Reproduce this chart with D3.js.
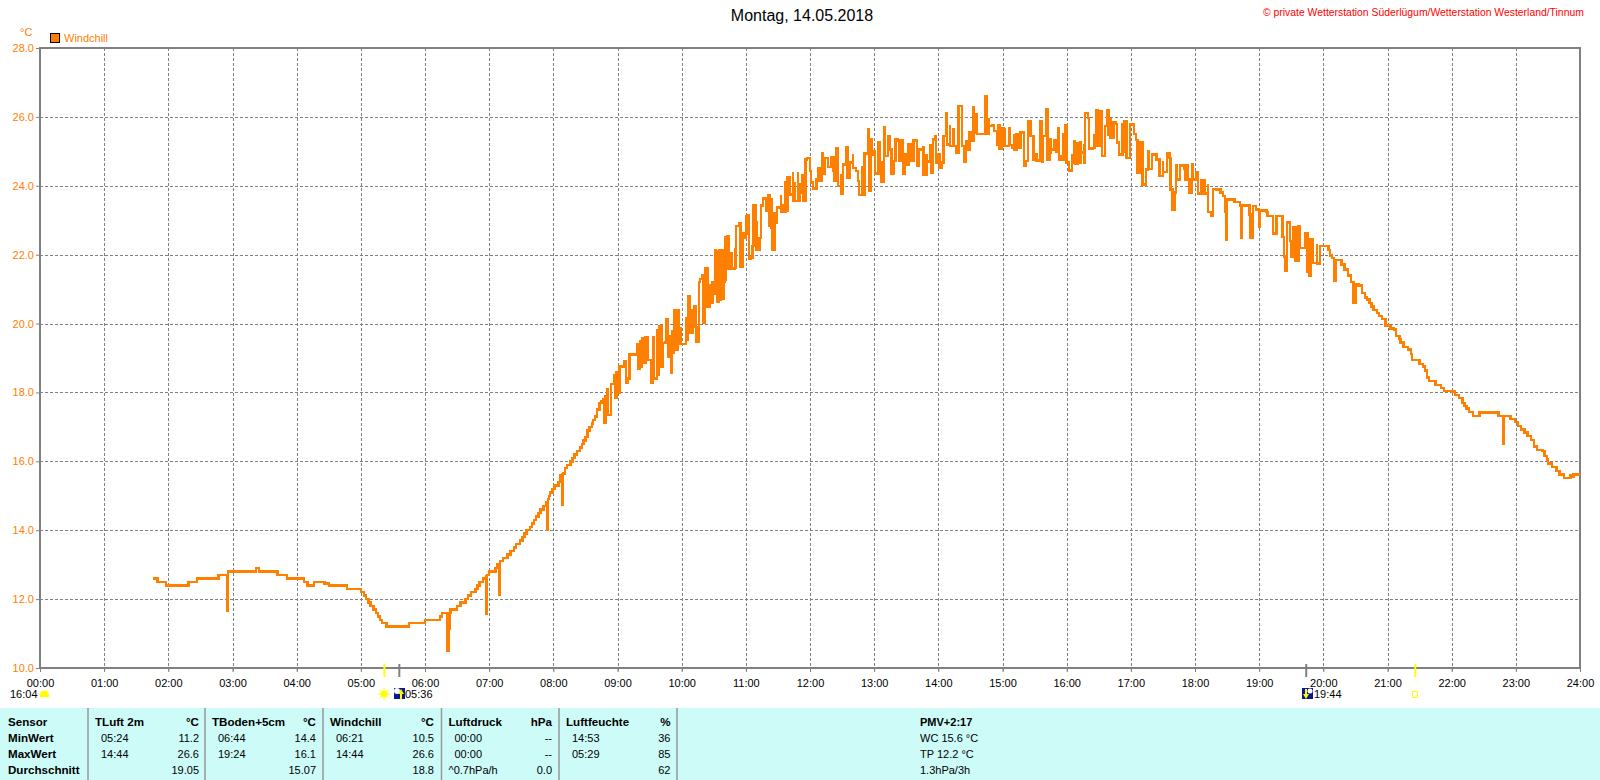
<!DOCTYPE html>
<html>
<head>
<meta charset="utf-8">
<title>Windchill 14.05.2018</title>
<script src="https://cdn.jsdelivr.net/npm/d3@7"></script>
<style>
  html, body { margin: 0; padding: 0; background: #fff; }
  svg { display: block; }
  text { font-family: "Liberation Sans", Arial, sans-serif; font-size: 11px; fill: #000; }
</style>
</head>
<body>
<svg id="chart" width="1600" height="780"></svg>
<script>
const hourTicks = d3.range(0, 1441, 60);
const hourLabels = ["00:00","01:00","02:00","03:00","04:00","05:00","06:00","07:00","08:00","09:00","10:00","11:00","12:00",
  "13:00","14:00","15:00","16:00","17:00","18:00","19:00","20:00","21:00","22:00","23:00","24:00"];
const tempTicks = [10, 12, 14, 16, 18, 20, 22, 24, 26, 28];

// [minute of day, windchill degC]
const windchill = [
  [106,12.6],[110,12.5],[118,12.4],[139,12.5],[147,12.6],[167,12.7],[175,12.7],
  [175,11.67],[176,11.67],[176,12.8],[202,12.9],[205,12.8],[222,12.7],[231,12.6],[247,12.5],
  [250,12.4],[256,12.5],[266,12.45],[270,12.4],[287,12.3],[300,12.2],[303,12.1],[305,12.0],[307,11.9],[309,11.8],[312,11.7],[314,11.6],[316,11.5],
  [318,11.4],[320,11.3],[324,11.2],[345,11.3],[360,11.4],[374,11.5],[376,11.6],[381,11.6],[381,10.5],[382,10.5],[382,11.6],[383,11.1],[383,11.6],[384,11.7],[390,11.8],[393,11.9],
  [398,12.0],[400,12.1],[403,12.2],[407,12.3],[409,12.4],[411,12.5],[414,12.6],[417,12.7],[417,11.57],[418,11.57],[418,12.7],[420,12.8],[426,12.9],
  [428,13.0],[429,13.0],[429,12.13],[430,12.13],[430,13.1],[433,13.2],[437,13.3],[440,13.4],[443,13.5],[445,13.6],[449,13.7],[451,13.8],[453,13.9],[455,14.0],
  [458,14.1],[460,14.2],[462,14.3],[464,14.4],[466,14.5],[468,14.6],[471,14.7],[473,14.8],[474,14.8],[474,14.0],[475,14.0],[475,14.9],[476,15.0],[477,15.1],[479,15.2],[481,15.3],
  [485,15.4],[486,15.6],[488,15.65],[488,14.73],[489,14.73],[489,15.65],[491,15.8],[493,15.9],[496,16.0],[498,16.1],[500,16.2],[502,16.3],[505,16.4],[507,16.5],[508,16.6],[510,16.7],
  [512,16.9],[514,17.0],[516,17.1],[517,17.2],[519,17.3],[521,17.5],[523,17.7],[525,17.75],[527,17.8],[528,17.12],[529,17.9],
  [530,18.1],[531,17.35],[534,18.25],[537,18.5],[538,17.86],[539,18.6],[541,18.0],[542,18.75],[546,18.9],[547,18.92],[548,18.28],[550,18.4],
  [551,19.1],[556,19.1],[558,19.4],[559,18.7],[561,19.5],[562,18.75],[563,19.57],[564,18.85],[566,19.6],[568,19.6],[568,18.94],[571,18.94],
  [572,18.28],[573,19.6],[574,18.4],[577,19.8],[578,18.5],[579,19.93],[581,19.93],[581,18.75],[582,19.43],[585,19.47],[586,20.12],[587,19.04],
  [589,19.64],[590,18.56],[591,19.77],[592,19.16],[593,20.4],[595,19.24],[596,20.4],[597,19.85],[599,19.4],[604,20.15],[605,19.52],[606,20.8],
  [608,19.72],[610,20.4],[612,20.5],[613,19.9],[614,19.47],[616,21.2],[617,21.3],[619,21.41],[620,20.03],[622,21.62],[624,20.5],[626,21.1],
  [627,20.6],[629,21.2],[631,20.83],[631,22.14],[632,22.1],[633,20.64],[635,22.14],[636,20.7],[637,22.14],[638,20.73],[639,21.2],[640,21.28],
  [641,22.52],[643,22.54],[644,21.6],[646,22.05],[647,21.6],[649,21.58],[650,22.2],[650,21.62],[651,22.83],[654,22.9],[655,21.65],[657,22.62],
  [659,22.49],[660,23.14],[660,22.62],[662,23.14],[663,22.62],[663,21.88],[665,21.92],[666,22.25],[667,23.43],[669,23.43],[669,22.93],[670,22.13],
  [673,22.13],[673,22.49],[674,23.43],[676,23.63],[678,23.63],[679,23.27],[681,23.72],[682,22.83],[684,23.65],[684,22.78],[685,22.13],[687,23.24],
  [687,22.93],[689,23.37],[691,23.37],[693,23.72],[693,23.24],[695,23.46],[695,23.24],[697,24.14],[697,23.27],[699,24.24],[701,23.75],[704,24.41],
  [704,23.56],[706,24.11],[706,23.56],[709,24.41],[709,23.56],[710,24.09],[710,23.8],[713,24.31],[714,23.56],[716,24.77],[717,24.81],[720,24.83],
  [720,24.43],[721,24.09],[723,23.92],[726,24.18],[728,24.52],[729,24.14],[731,24.94],[732,24.35],[734,24.81],[737,24.84],[737,24.55],[740,24.83],
  [742,24.45],[743,24.14],[745,25.1],[746,23.99],[749,24.35],[749,23.77],[751,24.62],[754,25.13],[755,24.23],[757,24.67],[760,24.91],[760,24.52],
  [763,24.43],[765,24.14],[766,23.73],[769,24.57],[769,23.73],[771,24.93],[774,25.64],[775,23.85],[777,25.35],[778,24.91],[780,25.0],[781,24.35],
  [784,25.25],[785,24.35],[787,24.72],[787,24.12],[789,25.71],[790,24.86],[793,25.44],[795,25.05],[796,24.35],[798,24.72],[800,25.35],[802,25.32],
  [803,24.74],[805,25.32],[807,24.35],[809,24.91],[810,24.62],[812,25.22],[815,25.05],[815,24.72],[817,25.32],[820,24.57],[822,25.05],[826,25.15],
  [826,24.33],[829,24.91],[829,24.7],[832,25.18],[833,24.38],[835,25.35],[837,25.44],[838,24.67],[840,24.91],[841,24.52],[843,24.67],[845,25.44],
  [847,26.12],[848,25.2],[851,25.76],[851,25.15],[854,25.68],[854,25.15],[857,25.15],[857,24.96],[859,26.31],[862,25.86],[862,25.15],[864,24.7],
  [866,25.28],[867,25.05],[869,25.54],[870,25.3],[873,26.31],[873,25.54],[875,26.07],[876,25.51],[880,25.51],[884,26.6],[885,25.51],[887,25.97],
  [887,25.73],[890,25.76],[892,25.59],[895,25.2],[896,25.76],[897,25.08],[899,25.68],[901,25.64],[902,25.15],[904,25.15],[906,25.68],[907,25.18],
  [909,25.1],[911,25.49],[911,25.05],[913,25.49],[914,25.1],[917,25.54],[920,24.57],[922,24.72],[924,25.86],[926,25.73],[926,25.44],[929,25.2],
  [929,24.76],[932,24.96],[932,24.74],[935,25.86],[937,24.7],[938,25.44],[941,26.22],[942,24.76],[944,24.96],[945,25.39],[945,25.05],[948,25.32],
  [950,25.0],[952,25.68],[953,24.76],[955,24.86],[957,25.54],[957,24.76],[959,25.76],[960,24.67],[962,24.45],[965,24.91],[965,24.67],[967,25.28],
  [968,24.64],[970,25.28],[970,24.67],[973,25.3],[973,24.96],[976,25.2],[976,24.67],[977,26.12],[980,25.97],[981,25.08],[984,25.1],[986,25.49],
  [986,25.3],[988,26.19],[989,25.15],[991,26.17],[993,24.86],[996,25.73],[998,26.19],[999,25.49],[1001,25.97],[1001,25.39],[1004,25.83],[1006,25.8],
  [1007,25.25],[1009,24.91],[1012,25.83],[1012,25.0],[1014,25.86],[1016,24.81],[1019,25.8],[1021,25.78],[1023,25.5],[1025,25.33],[1026,24.38],[1029,25.25],
  [1031,24.04],[1034,24.47],[1036,25.0],[1037,24.49],[1040,24.91],[1044,24.76],[1047,24.7],[1047,24.28],[1050,24.72],[1050,24.4],[1052,24.4],[1054,24.93],
  [1056,24.81],[1057,23.89],[1059,23.31],[1061,23.31],[1061,23.8],[1062,24.59],[1063,24.18],[1066,24.59],[1070,24.49],[1071,24.18],[1073,24.62],[1073,24.18],
  [1075,23.8],[1077,24.62],[1078,24.18],[1081,24.38],[1083,24.28],[1083,23.78],[1086,24.2],[1086,23.78],[1089,24.2],[1089,23.78],[1092,24.04],[1092,23.24],
  [1095,23.14],[1097,23.91],[1100,23.89],[1104,23.8],[1106,23.7],[1108,23.24],[1109,22.44],[1110,23.6],[1114,23.62],[1117,23.53],[1122,23.43],[1123,22.49],
  [1124,23.43],[1130,23.43],[1131,23.17],[1132,22.49],[1134,23.41],[1137,23.31],[1140,22.81],[1141,23.28],[1147,23.24],[1148,23.12],[1153,23.12],[1153,22.62],
  [1156,22.62],[1156,23.12],[1161,23.12],[1162,22.52],[1163,21.94],[1164,21.54],[1166,22.93],[1169,22.91],[1169,22.39],[1170,21.94],[1172,22.81],[1174,21.81],
  [1177,22.83],[1178,22.2],[1181,22.2],[1183,22.62],[1185,22.54],[1185,21.49],[1187,21.38],[1188,22.44],[1190,22.42],[1190,21.76],[1194,22.32],[1194,21.74],
  [1197,21.69],[1197,22.25],[1201,22.25],[1205,22.13],[1206,21.98],[1208,21.91],[1210,21.91],[1210,21.23],[1211,21.23],[1212,21.84],[1217,21.72],[1220,21.57],[1223,21.4],[1226,21.2],
  [1228,21.2],[1228,20.6],[1229,20.6],[1230,21.13],[1233,21.1],[1236,20.89],[1239,20.75],[1241,20.7],[1243,20.6],[1245,20.5],[1247,20.39],[1250,20.3],[1252,20.22],[1255,20.13],[1258,19.95],[1261,19.93],[1263,19.85],
  [1266,19.83],[1268,19.64],[1271,19.55],[1272,19.45],[1275,19.32],[1279,19.24],[1282,19.11],[1283,18.94],[1286,18.94],[1290,18.83],[1293,18.75],[1295,18.63],
  [1297,18.43],[1299,18.33],[1304,18.33],[1305,18.22],[1308,18.21],[1310,18.13],[1313,18.04],[1321,18.03],[1323,17.93],[1327,17.84],[1330,17.7],[1332,17.6],[1334,17.54],
  [1336,17.43],[1340,17.32],[1344,17.32],[1346,17.42],[1363,17.42],[1364,17.32],[1367,17.32],[1368,16.51],[1369,16.51],[1369,17.32],[1373,17.32],[1375,17.23],
  [1379,17.14],[1382,17.03],[1385,16.93],[1388,16.83],[1391,16.74],[1394,16.62],[1397,16.43],[1400,16.33],[1405,16.3],[1407,16.16],[1409,16.05],[1410,15.94],[1414,15.84],
  [1418,15.72],[1421,15.62],[1425,15.52],[1431,15.6],[1432,15.55],[1434,15.62],[1440,15.62]
];

// sun and moon marks on the time axis (minute of day)
const sunMarks = [{ m: 322, c: "#ffff00" }, { m: 1286, c: "#ffff00" }];
const moonMarks = [{ m: 336, c: "#808080" }, { m: 1184, c: "#808080" }];

// summary table below the chart
const tableHeads = [
  ["TLuft 2m", "°C"], ["TBoden+5cm", "°C"], ["Windchill", "°C"], ["Luftdruck", "hPa"], ["Luftfeuchte", "%"]
];
const rowNames = ["Sensor", "MinWert", "MaxWert", "Durchschnitt"];
const minRow = [["05:24","11.2"], ["06:44","14.4"], ["06:21","10.5"], ["00:00","--"], ["14:53","36"]];
const maxRow = [["14:44","26.6"], ["19:24","16.1"], ["14:44","26.6"], ["00:00","--"], ["05:29","85"]];
const avgRow = [["","19.05"], ["","15.07"], ["","18.8"], ["^0.7hPa/h","0.0"], ["","62"]];
const pmvLines = ["PMV+2:17", "WC 15.6 °C", "TP 12.2 °C", "1.3hPa/3h"];

const orange = "#ff8000";
const gray = "#808080";
const plotLeft = 40, plotRight = 1580, plotTop = 48, plotBottom = 668;

const svg = d3.select("#chart");
const x = d3.scaleLinear().domain([0, 1440]).range([plotLeft, plotRight]);
const y = d3.scaleLinear().domain([10, 28]).range([plotBottom, plotTop]);

// grid
svg.append("g").selectAll("line").data(hourTicks.slice(1, -1)).join("line")
  .attr("x1", d => Math.round(x(d)) + 0.5).attr("x2", d => Math.round(x(d)) + 0.5)
  .attr("y1", plotTop).attr("y2", plotBottom + 4)
  .attr("stroke", gray).attr("stroke-dasharray", "3,2");
svg.append("g").selectAll("line").data(tempTicks.slice(1, -1)).join("line")
  .attr("x1", plotLeft).attr("x2", plotRight)
  .attr("y1", d => Math.round(y(d)) + 0.5).attr("y2", d => Math.round(y(d)) + 0.5)
  .attr("stroke", gray).attr("stroke-dasharray", "3,2");

// axes
const xAxis = d3.axisBottom(x).tickValues(hourTicks)
  .tickFormat((d, i) => hourLabels[i]).tickSize(4).tickPadding(7);
const gx = svg.append("g").attr("transform", `translate(0,${plotBottom})`).call(xAxis);
gx.select(".domain").remove();
gx.selectAll("line").attr("stroke", gray);
gx.selectAll("text").style("font-size", "11px").style("font-family", "Liberation Sans").attr("fill", "#000");

const yAxis = d3.axisLeft(y).tickValues(tempTicks)
  .tickFormat(d => d.toFixed(1)).tickSize(4).tickPadding(2);
const gy = svg.append("g").attr("transform", `translate(${plotLeft},0)`).call(yAxis);
gy.select(".domain").remove();
gy.selectAll("line").attr("stroke", gray);
gy.selectAll("text").style("font-size", "11px").style("font-family", "Liberation Sans").style("fill", orange);

svg.append("rect").attr("x", plotLeft).attr("y", plotTop).attr("width", plotRight - plotLeft).attr("height", plotBottom - plotTop)
  .attr("fill", "none").attr("stroke", gray).attr("stroke-width", 2);

// series, the station logs in steps so draw it the same way
const line = d3.line().curve(d3.curveStepAfter).x(d => x(d[0])).y(d => y(d[1]));
svg.append("path").datum(windchill)
  .attr("fill", "none").attr("stroke", orange).attr("stroke-width", 2.5)
  .attr("shape-rendering", "crispEdges").attr("d", line);

// title, copyright, legend
svg.append("text").attr("x", 802).attr("y", 21).attr("text-anchor", "middle").style("font-size", "16px").text("Montag, 14.05.2018");
svg.append("text").attr("x", 1263).attr("y", 16).style("fill", "#ff0000").style("font-size", "10.4px")
  .text("© private Wetterstation Süderlügum/Wetterstation Westerland/Tinnum");
svg.append("text").attr("x", 20).attr("y", 36).style("fill", orange).text("°C");
svg.append("rect").attr("x", 50.5).attr("y", 33.5).attr("width", 9).attr("height", 9)
  .attr("fill", orange).attr("stroke", "#000");
svg.append("text").attr("x", 64).attr("y", 42).style("fill", orange).text("Windchill");

// sunrise, sunset and moon marks
svg.append("g").selectAll("line").data(sunMarks.concat(moonMarks)).join("line")
  .attr("x1", d => x(d.m)).attr("x2", d => x(d.m)).attr("y1", 664).attr("y2", 677)
  .attr("stroke", d => d.c).attr("stroke-width", 2);

svg.append("text").attr("x", 10).attr("y", 698).text("16:04");
svg.append("path").attr("d", "M40,697 v-2 a4.5,4.5 0 0 1 9,0 v2 z").attr("fill", "#ffff00");

svg.append("circle").attr("cx", 384).attr("cy", 694).attr("r", 3.5).attr("fill", "#ffff00");
svg.append("g").selectAll("line").data(d3.range(0, 360, 45)).join("line")
  .attr("x1", 384).attr("y1", 694)
  .attr("x2", d => 384 + 6 * Math.cos(d * Math.PI / 180))
  .attr("y2", d => 694 + 6 * Math.sin(d * Math.PI / 180))
  .attr("stroke", "#ffff00");

svg.append("rect").attr("x", 394).attr("y", 688).attr("width", 11).attr("height", 11).attr("fill", "#0a1a8c");
svg.append("circle").attr("cx", 397).attr("cy", 691).attr("r", 3).attr("fill", "#fff");
svg.append("path").attr("d", "M401,689 l-3,5 h2 v5 h2 v-5 h2 z").attr("fill", "#ffff00");
svg.append("text").attr("x", 405).attr("y", 698).text("05:36");

svg.append("rect").attr("x", 1302).attr("y", 688).attr("width", 11).attr("height", 11).attr("fill", "#0a1a8c");
svg.append("circle").attr("cx", 1310).attr("cy", 691).attr("r", 2.5).attr("fill", "#fff");
svg.append("path").attr("d", "M1306,699 l-3,-5 h2 v-5 h2 v5 h2 z").attr("fill", "#ffff00");
svg.append("text").attr("x", 1314).attr("y", 698).text("19:44");

svg.append("rect").attr("x", 1412.5).attr("y", 691.5).attr("width", 5).attr("height", 6)
  .attr("fill", "none").attr("stroke", "#ffff00");

// table
const rowY = [726, 742, 758, 774];
const colLeft = [88, 205, 323, 441.5, 559];
const colRight = [199, 316, 434, 552, 670.5];
const table = svg.append("g");
table.append("rect").attr("x", 0).attr("y", 708).attr("width", 1600).attr("height", 72).attr("fill", "#ccfbf8");
table.selectAll("line").data(colLeft.concat([677])).join("line")
  .attr("x1", d => d).attr("x2", d => d).attr("y1", 708).attr("y2", 780)
  .attr("stroke", "#999").attr("stroke-width", 1.5);

rowNames.forEach((name, i) => {
  table.append("text").attr("x", 8).attr("y", rowY[i]).style("font-weight", "bold").style("font-size", "11.6px").text(name);
});
tableHeads.forEach((head, c) => {
  table.append("text").attr("x", colLeft[c] + 7).attr("y", rowY[0]).style("font-weight", "bold").style("font-size", "11.6px").text(head[0]);
  table.append("text").attr("x", colRight[c]).attr("y", rowY[0]).attr("text-anchor", "end").style("font-weight", "bold").style("font-size", "11.6px").text(head[1]);
  [minRow, maxRow, avgRow].forEach((row, r) => {
    const dx = row[c][0].startsWith("^") ? 7 : 13;
    table.append("text").attr("x", colLeft[c] + dx).attr("y", rowY[r + 1]).text(row[c][0]);
    table.append("text").attr("x", colRight[c]).attr("y", rowY[r + 1]).attr("text-anchor", "end").text(row[c][1]);
  });
});
pmvLines.forEach((t, i) => {
  table.append("text").attr("x", 920).attr("y", rowY[i]).style("font-weight", i == 0 ? "bold" : "normal").text(t);
});
</script>
</body>
</html>
